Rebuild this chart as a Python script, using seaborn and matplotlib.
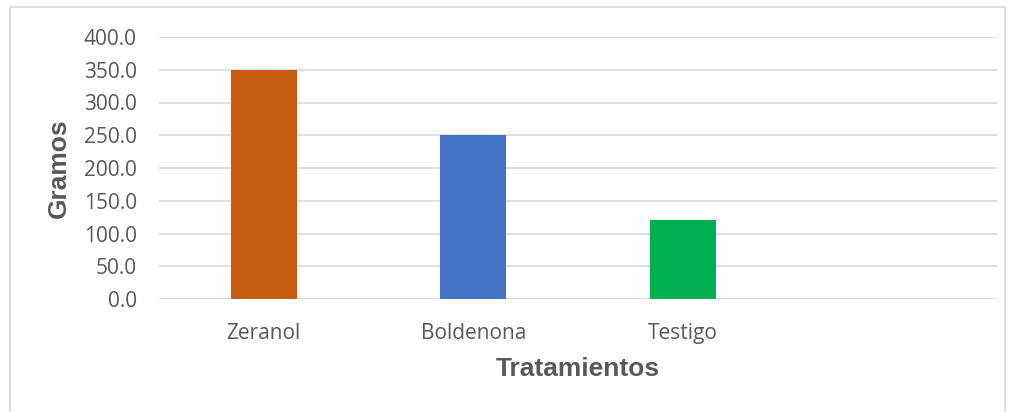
import pandas as pd
import matplotlib.pyplot as plt
import seaborn as sns
from matplotlib.patches import Rectangle

# ---------------- Data ----------------
tratamientos = ["Zeranol", "Boldenona", "Testigo"]
gramos = [350.0, 250.0, 120.0]
colores = ["#C55A11", "#4472C4", "#00B050"]
y_ticks = [0, 50, 100, 150, 200, 250, 300, 350, 400]

df = pd.DataFrame({"Tratamiento": tratamientos, "Gramos": gramos})
orden = tratamientos + [" "]  # empty fourth slot as in the original

# ---------------- Figure ----------------
sns.set_style("white")
plt.rcParams['font.family'] = ['Open Sans', 'DejaVu Sans']

fig = plt.figure(figsize=(10.13, 4.12), dpi=100)
fig.patches.append(Rectangle((10 / 1013, -0.1), 995 / 1013, 1.1 - 7 / 412,
                             transform=fig.transFigure, fill=False,
                             edgecolor="#D9D9D9", linewidth=1.2))
ax = fig.add_axes([159 / 1013, 1 - 299 / 412, 838 / 1013, 262 / 412])

sns.barplot(data=df, x="Tratamiento", y="Gramos", hue="Tratamiento",
            order=orden, hue_order=tratamientos, palette=colores,
            saturation=1, linewidth=0, width=0.316, dodge=False,
            legend=False, ax=ax, zorder=3)

ax.set_ylim(0, 400)
ax.set_yticks(y_ticks)
ax.set_yticklabels([f"{v:.1f}" for v in y_ticks])
ax.yaxis.grid(True, color="#D9D9D9", linewidth=1.2, zorder=0)
ax.set_axisbelow(True)
sns.despine(ax=ax, left=True, bottom=True)
ax.tick_params(axis="both", length=0, labelsize=15, labelcolor="#595959")
ax.tick_params(axis="y", pad=16)
ax.tick_params(axis="x", pad=17)

ax.set_xlabel("Tratamientos", fontsize=19, fontweight="bold", color="#595959",
              family=["Liberation Sans"], labelpad=10)
ax.set_ylabel("Gramos", fontsize=19, fontweight="bold", color="#595959",
              family=["Liberation Sans"], labelpad=9)

fig.savefig("out.png", dpi=100)
